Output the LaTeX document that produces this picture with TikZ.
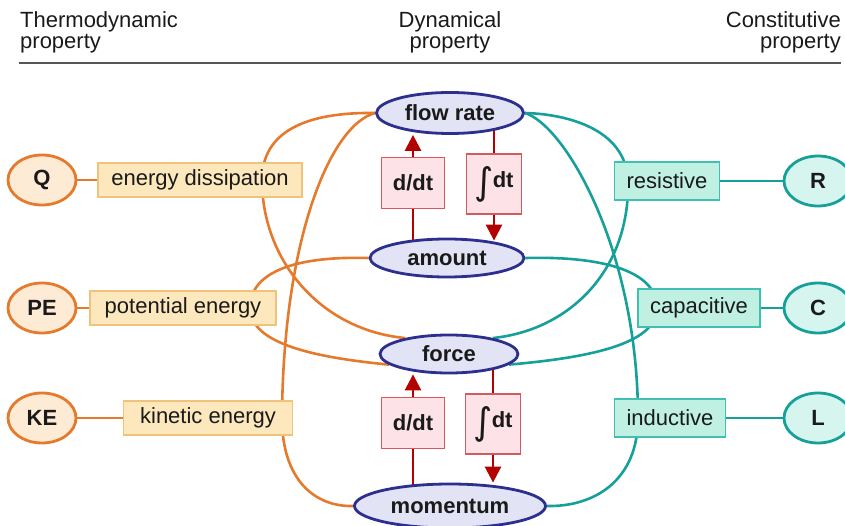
\documentclass[tikz,border=0pt]{standalone}
\usepackage{fontspec}
\setmainfont{Liberation Sans}
\newfontfamily\djv{DejaVu Sans}
\usetikzlibrary{shapes.geometric,arrows.meta}
\pgfdeclarelayer{background}
\pgfsetlayers{background,main}
\definecolor{orng}{HTML}{E57A2C}
\definecolor{orfill}{HTML}{FDEBD5}
\definecolor{obfill}{HTML}{FCE8BC}
\definecolor{obdraw}{HTML}{F0C27A}
\definecolor{blu}{HTML}{2C2F8E}
\definecolor{blufill}{HTML}{E3E3F6}
\definecolor{rbfill}{HTML}{FDE2E7}
\definecolor{rbdraw}{HTML}{D05A5E}
\definecolor{dred}{HTML}{B30000}
\definecolor{tl}{HTML}{16A09A}
\definecolor{tbfill}{HTML}{BFF0E2}
\definecolor{tbdraw}{HTML}{40BFB2}
\definecolor{tefill}{HTML}{D6F5EF}
\definecolor{txt}{HTML}{1A1A1A}
\definecolor{rulec}{HTML}{555555}
\newcommand\intsym{\raisebox{-7pt}{\djv\mdseries\fontsize{37}{37}\selectfont ∫}\kern-1pt}
\begin{document}
\begin{tikzpicture}[x=1pt,y=-1pt,
  every node/.style={font=\fontsize{22}{24}\selectfont, text=txt},
  hdr/.style={inner sep=0pt},
  dyn/.style={ellipse, draw=blu, fill=blufill, line width=2.8pt, inner sep=0pt, font=\fontsize{22}{24}\selectfont\bfseries},
  thermo/.style={ellipse, draw=orng, fill=orfill, line width=2.8pt, inner sep=0pt, minimum width=68pt, minimum height=50pt, font=\fontsize{22}{24}\selectfont\bfseries},
  consti/.style={ellipse, draw=tl, fill=tefill, line width=2.8pt, inner sep=0pt, minimum width=68pt, minimum height=50pt, font=\fontsize{22}{24}\selectfont\bfseries},
  obox/.style={rectangle, draw=obdraw, fill=obfill, line width=1.3pt, inner sep=0pt, minimum height=34pt},
  tbox/.style={rectangle, draw=tbdraw, fill=tbfill, line width=1.3pt, inner sep=0pt, minimum height=38pt},
  rbox/.style={rectangle, draw=rbdraw, fill=rbfill, line width=1.3pt, inner sep=0pt, font=\fontsize{22}{24}\selectfont\bfseries},
  ocurve/.style={draw=orng, line width=2.6pt},
  tcurve/.style={draw=tl, line width=2.6pt},
  rline/.style={draw=dred, line width=2.6pt},
  rarrow/.style={draw=dred, line width=2.6pt, -{Triangle[length=16pt,width=16pt]}},
  rulestyle/.style={draw=rulec, line width=1.4pt}
]
\useasboundingbox (0,0) rectangle (845,526);

% headers
\node[hdr, anchor=base west] (h1a) at (20,28) {Thermodynamic};
\node[hdr, anchor=base west] (h1b) at (20,49) {property};
\node[hdr, anchor=base] (h2a) at (450,28) {Dynamical};
\node[hdr, anchor=base] (h2b) at (450,49) {property};
\node[hdr, anchor=base east] (h3a) at (841,28) {Constitutive};
\node[hdr, anchor=base east] (h3b) at (841,49) {property};
\coordinate (ruleL) at (19,63);
\coordinate (ruleR) at (841,63);
\draw[rulestyle] (ruleL) -- (ruleR);

% dynamical ellipses
\node[dyn, minimum width=147pt, minimum height=41pt] (fr) at (450,113) {flow rate};
\node[dyn, minimum width=154pt, minimum height=38pt] (am) at (447,258) {amount};
\node[dyn, minimum width=138pt, minimum height=38pt] (fo) at (449,354) {force};
\node[dyn, minimum width=191pt, minimum height=44pt] (mo) at (450,506) {momentum};

% operator boxes
\node[rbox, minimum width=63pt, minimum height=51pt] (d1) at (413,183) {d/dt};
\node[rbox, minimum width=55pt, minimum height=60pt] (i1) at (494,184) {\intsym dt};
\node[rbox, minimum width=63pt, minimum height=51pt] (d2) at (413,423) {d/dt};
\node[rbox, minimum width=55pt, minimum height=60pt] (i2) at (493,424) {\intsym dt};

% thermodynamic side
\node[thermo] (Q) at (42,180) {Q};
\node[obox, minimum width=204pt] (ed) at (200,180) {energy dissipation};
\node[thermo] (PE) at (42,308) {PE};
\node[obox, minimum width=186pt] (pe) at (183,308) {potential energy};
\node[thermo] (KE) at (42,418) {KE};
\node[obox, minimum width=169pt] (ke) at (208,418) {kinetic energy};

% constitutive side
\node[consti] (R) at (818,181) {R};
\node[tbox, minimum width=105pt] (rs) at (667,181) {resistive};
\node[consti] (C) at (818,308) {C};
\node[tbox, minimum width=122pt] (cp) at (699,308) {capacitive};
\node[consti] (L) at (818,418) {L};
\node[tbox, minimum width=111pt] (in) at (670,418) {inductive};

% arrow heads
\draw[rarrow] (d1.north) -- (d1.north |- fr.south);
\draw[rarrow] (i1.south) -- ([yshift=-3pt]i1.south |- am.north);
\draw[rarrow] (d2.north) -- (d2.north |- fo.south);
\draw[rarrow] (i2.south) -- (i2.south |- mo.north);

\coordinate (v1) at (262,180);
\coordinate (v2) at (282,418);
\coordinate (v3) at (250,308);
\coordinate (v4) at (628,181);
\coordinate (v5) at (638,418);
\coordinate (v6) at (657,308);

\begin{pgfonlayer}{background}
  % operator stems
  \draw[rline] (am.center -| d1) -- (d1.south);
  \draw[rline] (fr.center -| i1) -- (i1.north);
  \draw[rline] (mo.center -| d2) -- (d2.south);
  \draw[rline] (fo.center -| i2) -- (i2.north);
  % short links
  \draw[ocurve] (Q) -- (ed);
  \draw[ocurve] (PE) -- (pe);
  \draw[ocurve] (KE) -- (ke);
  \draw[tcurve] (R) -- (rs);
  \draw[tcurve] (C) -- (cp);
  \draw[tcurve] (L) -- (in);
  % orange curves
  \draw[ocurve] (fr.west) .. controls (305,112) and (262,132) .. (v1)
                .. controls (262,260) and (320,330) .. (fo.160);
  \draw[ocurve] (fr.west) .. controls (330,125) and (283,240) .. (v2)
                .. controls (282,480) and (315,507) .. (mo.west);
  \draw[ocurve] (am.west) .. controls (300,256) and (250,270) .. (v3)
                .. controls (250,345) and (320,358) .. (fo.190);
  % teal curves
  \draw[tcurve] (fr.east) .. controls (565,114) and (626,128) .. (v4)
                .. controls (630,270) and (570,330) .. (fo.20);
  \draw[tcurve] (fr.east) .. controls (565,125) and (638,250) .. (v5)
                .. controls (638,480) and (595,507) .. (mo.east);
  \draw[tcurve] (am.east) .. controls (600,256) and (657,270) .. (v6)
                .. controls (657,345) and (585,358) .. (fo.350);
\end{pgfonlayer}
\end{tikzpicture}
\end{document}
